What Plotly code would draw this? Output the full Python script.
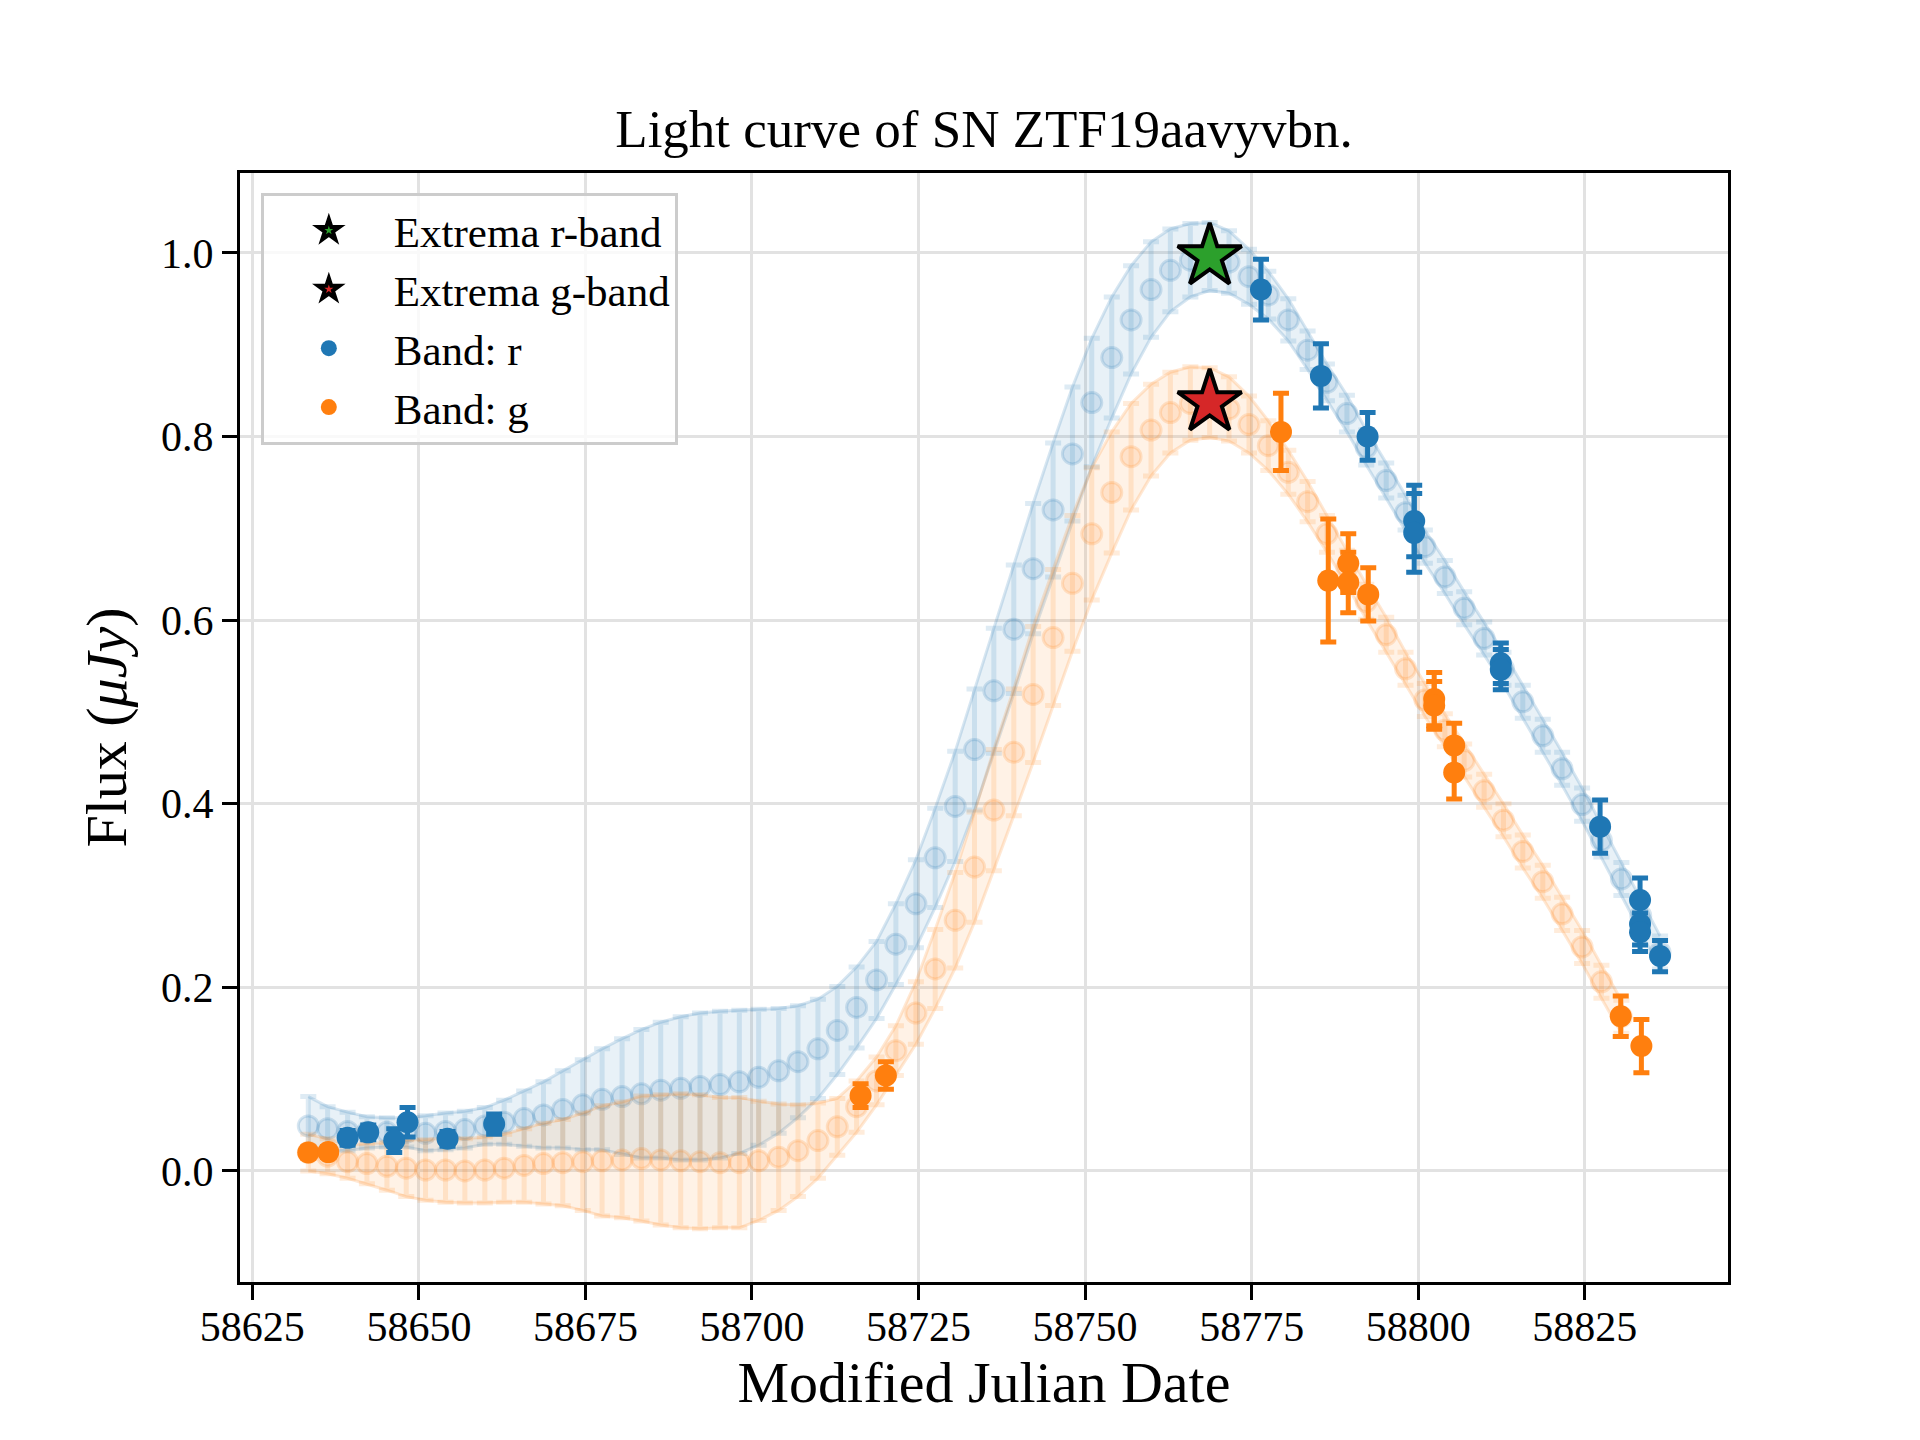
import numpy as np
import plotly.graph_objects as go

# gaussian process prediction grid (shared by both bands)
grid_mjd = [58633.4, 58636.3, 58639.3, 58642.2, 58645.2, 58648.1, 58651.0, 58654.0, 58656.9, 58659.9,
            58662.8, 58665.8, 58668.7, 58671.6, 58674.6, 58677.5, 58680.5, 58683.4, 58686.3, 58689.3,
            58692.2, 58695.2, 58698.1, 58701.0, 58704.0, 58706.9, 58709.9, 58712.8, 58715.7, 58718.7,
            58721.6, 58724.6, 58727.5, 58730.5, 58733.4, 58736.3, 58739.3, 58742.2, 58745.2, 58748.1,
            58751.0, 58754.0, 58756.9, 58759.9, 58762.8, 58765.8, 58768.7, 58771.6, 58774.6, 58777.5,
            58780.5, 58783.4, 58786.3, 58789.3, 58792.2, 58795.2, 58798.1, 58801.0, 58804.0, 58806.9,
            58809.9, 58812.8, 58815.7, 58818.7, 58821.6, 58824.6, 58827.5, 58830.5, 58833.4, 58836.3]

r_pred_mean = [0.049, 0.046, 0.043, 0.042, 0.042, 0.042, 0.041, 0.043, 0.045, 0.049,
               0.053, 0.057, 0.061, 0.067, 0.072, 0.078, 0.081, 0.084, 0.088, 0.090,
               0.092, 0.094, 0.097, 0.102, 0.109, 0.119, 0.133, 0.153, 0.178, 0.208,
               0.247, 0.291, 0.341, 0.397, 0.459, 0.523, 0.590, 0.656, 0.720, 0.781,
               0.837, 0.886, 0.927, 0.960, 0.981, 0.992, 0.996, 0.990, 0.974, 0.954,
               0.927, 0.894, 0.859, 0.825, 0.788, 0.752, 0.717, 0.680, 0.647, 0.613,
               0.580, 0.547, 0.511, 0.474, 0.438, 0.399, 0.360, 0.318, 0.278, 0.238]
r_pred_std = [0.032, 0.024, 0.021, 0.017, 0.016, 0.016, 0.019, 0.020, 0.020, 0.020,
              0.024, 0.030, 0.036, 0.042, 0.049, 0.055, 0.063, 0.070, 0.074, 0.078,
              0.080, 0.080, 0.078, 0.074, 0.068, 0.061, 0.054, 0.048, 0.044, 0.042,
              0.044, 0.048, 0.054, 0.060, 0.066, 0.068, 0.070, 0.071, 0.073, 0.073,
              0.070, 0.066, 0.059, 0.052, 0.045, 0.040, 0.037, 0.034, 0.030, 0.026,
              0.023, 0.021, 0.020, 0.020, 0.019, 0.019, 0.019, 0.018, 0.018, 0.018,
              0.018, 0.018, 0.018, 0.018, 0.018, 0.018, 0.018, 0.018, 0.018, 0.018]

# g-band prediction stops two grid points earlier
g_pred_mean = [0.020, 0.016, 0.010, 0.008, 0.005, 0.003, 0.001, 0.001, 0.000, 0.001,
               0.003, 0.006, 0.008, 0.009, 0.010, 0.011, 0.012, 0.0135, 0.012, 0.011,
               0.010, 0.009, 0.009, 0.011, 0.015, 0.022, 0.033, 0.048, 0.070, 0.098,
               0.131, 0.172, 0.220, 0.273, 0.331, 0.393, 0.456, 0.519, 0.581, 0.640,
               0.694, 0.739, 0.778, 0.807, 0.826, 0.836, 0.837, 0.830, 0.813, 0.790,
               0.761, 0.729, 0.694, 0.657, 0.620, 0.584, 0.547, 0.513, 0.480, 0.447,
               0.414, 0.382, 0.348, 0.315, 0.280, 0.244, 0.206, 0.168]
g_pred_std = [0.020, 0.019, 0.018, 0.022, 0.026, 0.031, 0.033, 0.035, 0.035, 0.036,
              0.037, 0.040, 0.044, 0.047, 0.053, 0.060, 0.063, 0.068, 0.071, 0.073,
              0.073, 0.071, 0.071, 0.065, 0.058, 0.050, 0.041, 0.031, 0.028, 0.026,
              0.027, 0.034, 0.043, 0.052, 0.060, 0.066, 0.069, 0.074, 0.074, 0.074,
              0.072, 0.066, 0.058, 0.050, 0.044, 0.040, 0.038, 0.035, 0.031, 0.027,
              0.024, 0.022, 0.020, 0.019, 0.019, 0.019, 0.018, 0.018, 0.018, 0.018,
              0.018, 0.018, 0.018, 0.018, 0.018, 0.018, 0.018, 0.018]

# observations
r_mjd = [58639.3, 58642.4, 58646.3, 58648.3, 58654.3, 58661.3, 58776.4, 58785.4, 58792.4,
         58799.4, 58799.4, 58812.4, 58812.4, 58827.3, 58833.3, 58833.3, 58833.3, 58836.3]
r_flux = [0.036, 0.042, 0.033, 0.053, 0.035, 0.051, 0.960, 0.866, 0.800,
          0.708, 0.695, 0.553, 0.546, 0.375, 0.295, 0.269, 0.260, 0.234]
r_err = [0.008, 0.008, 0.013, 0.016, 0.008, 0.011, 0.033, 0.035, 0.026,
         0.039, 0.043, 0.022, 0.022, 0.029, 0.024, 0.023, 0.021, 0.017]

g_mjd = [58633.4, 58636.4, 58716.3, 58720.1, 58779.4, 58786.5, 58789.5, 58789.5,
         58792.5, 58802.4, 58802.4, 58805.4, 58805.4, 58830.4, 58833.5]
g_flux = [0.020, 0.0205, 0.082, 0.104, 0.805, 0.643, 0.662, 0.641,
          0.628, 0.514, 0.507, 0.4635, 0.434, 0.1685, 0.136]
g_err = [0.006, 0.006, 0.013, 0.015, 0.042, 0.067, 0.032, 0.033,
         0.029, 0.029, 0.026, 0.024, 0.029, 0.022, 0.029]

# peaks
r_peak = (58768.7, 0.996)
g_peak = (58768.7, 0.837)

BLUE = "#1f77b4"
ORANGE = "#ff7f0e"
FONT = "Liberation Serif"


def rgba(hex_color, alpha):
    h = hex_color.lstrip("#")
    return f"rgba({int(h[0:2], 16)},{int(h[2:4], 16)},{int(h[4:6], 16)},{alpha})"


def add_prediction(fig, t, mean, std, color):
    mean = np.array(mean)
    std = np.array(std)
    # shaded band between mean - std and mean + std
    fig.add_trace(go.Scatter(x=t, y=mean - std, mode="lines",
                             line=dict(color=rgba(color, 0.18), width=3),
                             showlegend=False, hoverinfo="skip"))
    fig.add_trace(go.Scatter(x=t, y=mean + std, mode="lines", fill="tonexty",
                             fillcolor=rgba(color, 0.1),
                             line=dict(color=rgba(color, 0.18), width=3),
                             showlegend=False, hoverinfo="skip"))
    # faint prediction points with error bars
    fig.add_trace(go.Scatter(x=t, y=mean, mode="markers",
                             marker=dict(size=20, color=rgba(color, 0.13),
                                         line=dict(color=rgba(color, 0.18), width=3)),
                             error_y=dict(type="data", array=std, color=rgba(color, 0.15),
                                          thickness=5, width=8),
                             showlegend=False, hoverinfo="skip"))


fig = go.Figure()

add_prediction(fig, grid_mjd, r_pred_mean, r_pred_std, BLUE)
add_prediction(fig, grid_mjd[:len(g_pred_mean)], g_pred_mean, g_pred_std, ORANGE)

fig.add_trace(go.Scatter(x=r_mjd, y=r_flux, mode="markers", name="Band: r", legendrank=3,
                         marker=dict(size=22, color=BLUE),
                         error_y=dict(type="data", array=r_err, color=BLUE, thickness=5, width=8)))
fig.add_trace(go.Scatter(x=g_mjd, y=g_flux, mode="markers", name="Band: g", legendrank=4,
                         marker=dict(size=22, color=ORANGE),
                         error_y=dict(type="data", array=g_err, color=ORANGE, thickness=5, width=8)))

fig.add_trace(go.Scatter(x=[r_peak[0]], y=[r_peak[1]], mode="markers", name="Extrema r-band",
                         legendrank=1,
                         marker=dict(symbol="star", size=48, color="#2ca02c",
                                     line=dict(color="black", width=4))))
fig.add_trace(go.Scatter(x=[g_peak[0]], y=[g_peak[1]], mode="markers", name="Extrema g-band",
                         legendrank=2,
                         marker=dict(symbol="star", size=48, color="#d62728",
                                     line=dict(color="black", width=4))))

axis_style = dict(showline=True, mirror=True, linecolor="black", linewidth=3,
                  ticks="outside", ticklen=15, tickwidth=3, tickcolor="black",
                  showgrid=True, gridcolor="#e2e2e2", gridwidth=3, zeroline=False,
                  tickfont=dict(family=FONT, size=42, color="black"))

fig.update_xaxes(range=[58623.15, 58846.5], tick0=58625, dtick=25, tickformat="d",
                 ticklabelstandoff=-9,
                 title=dict(text="Modified Julian Date", standoff=12,
                            font=dict(family=FONT, size=58, color="black")),
                 **axis_style)
fig.update_yaxes(range=[-0.121, 1.087], tick0=0, dtick=0.2, tickformat=".1f",
                 title=dict(text="Flux (<i>μJy</i>)", standoff=16,
                            font=dict(family=FONT, size=58, color="black")),
                 **axis_style)

fig.update_layout(
    width=1920,
    height=1440,
    margin=dict(l=232, r=200, t=165, b=166),
    plot_bgcolor="white",
    paper_bgcolor="white",
    font=dict(family=FONT, color="black"),
    title=dict(text="Light curve of SN ZTF19aavyvbn.", x=0.5, xref="paper", xanchor="center",
               y=1 - 120 / 1440, yref="container", yanchor="middle",
               font=dict(family=FONT, size=53, color="black")),
    legend=dict(x=0.014, y=0.982, xanchor="left", yanchor="top",
                bgcolor="rgba(255,255,255,0.8)", bordercolor="#cccccc", borderwidth=3,
                font=dict(family=FONT, size=43, color="black"),
                itemwidth=120, traceorder="normal"),
)

fig.write_html("out.html")
